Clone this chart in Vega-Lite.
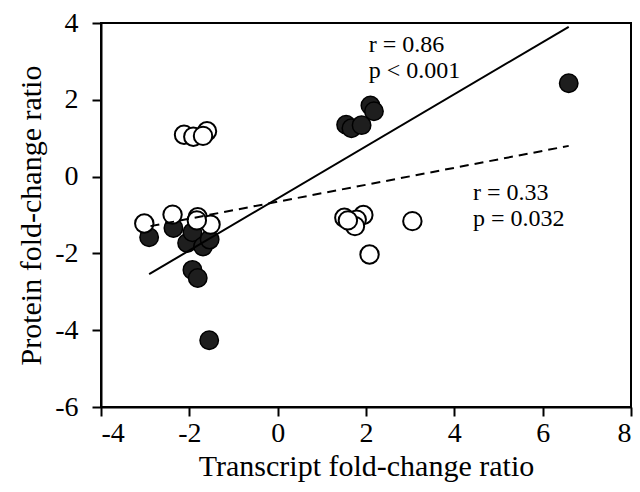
{
  "$schema": "https://vega.github.io/schema/vega-lite/v6.json",
  "width": 530,
  "height": 384,
  "autosize": {"type": "none"},
  "padding": {"left": 101, "top": 23, "right": 9, "bottom": 85},
  "background": "white",
  "config": {
    "view": {"stroke": "black", "strokeWidth": 2},
    "font": "Liberation Serif",
    "axis": {
      "grid": false,
      "domainColor": "black",
      "domainWidth": 2,
      "tickColor": "black",
      "tickWidth": 2,
      "tickSize": 9,
      "labelFont": "Liberation Serif",
      "labelFontSize": 28,
      "labelColor": "black",
      "titleFont": "Liberation Serif",
      "titleFontSize": 30,
      "titleFontWeight": "normal",
      "titleColor": "black",
      "labelExpr": "datum.value < 0 ? '-' + abs(datum.value) : '' + datum.value"
    }
  },
  "datasets": {
    "points": [
      {"transcript": 6.59, "protein": 2.43, "type": "filled"},
      {"transcript": 2.10, "protein": 1.85, "type": "filled"},
      {"transcript": 2.18, "protein": 1.70, "type": "filled"},
      {"transcript": 1.55, "protein": 1.35, "type": "filled"},
      {"transcript": 1.67, "protein": 1.26, "type": "filled"},
      {"transcript": 1.90, "protein": 1.34, "type": "filled"},
      {"transcript": -2.91, "protein": -1.58, "type": "filled"},
      {"transcript": -2.36, "protein": -1.34, "type": "filled"},
      {"transcript": -2.05, "protein": -1.73, "type": "filled"},
      {"transcript": -1.93, "protein": -1.45, "type": "filled"},
      {"transcript": -1.69, "protein": -1.82, "type": "filled"},
      {"transcript": -1.54, "protein": -1.64, "type": "filled"},
      {"transcript": -1.93, "protein": -2.43, "type": "filled"},
      {"transcript": -1.81, "protein": -2.64, "type": "filled"},
      {"transcript": -1.55, "protein": -4.26, "type": "filled"},
      {"transcript": -2.12, "protein": 1.09, "type": "open"},
      {"transcript": -1.91, "protein": 1.04, "type": "open"},
      {"transcript": -1.60, "protein": 1.18, "type": "open"},
      {"transcript": -1.69, "protein": 1.06, "type": "open"},
      {"transcript": -3.02, "protein": -1.22, "type": "open"},
      {"transcript": -2.38, "protein": -0.99, "type": "open"},
      {"transcript": -1.81, "protein": -1.06, "type": "open"},
      {"transcript": -1.52, "protein": -1.25, "type": "open"},
      {"transcript": -1.83, "protein": -1.14, "type": "open"},
      {"transcript": 1.51, "protein": -1.07, "type": "open"},
      {"transcript": 1.94, "protein": -1.00, "type": "open"},
      {"transcript": 1.79, "protein": -1.12, "type": "open"},
      {"transcript": 1.75, "protein": -1.29, "type": "open"},
      {"transcript": 1.59, "protein": -1.14, "type": "open"},
      {"transcript": 3.05, "protein": -1.16, "type": "open"},
      {"transcript": 2.08, "protein": -2.03, "type": "open"}
    ],
    "fits": [
      {"transcript": -2.91, "protein": -2.54, "fit": "filled"},
      {"transcript": 6.59, "protein": 3.90, "fit": "filled"},
      {"transcript": -2.88, "protein": -1.29, "fit": "open"},
      {"transcript": 6.59, "protein": 0.80, "fit": "open"}
    ],
    "labels": [
      {"transcript": 2.06, "protein": 3.42, "label": "r = 0.86"},
      {"transcript": 2.06, "protein": 2.74, "label": "p < 0.001"},
      {"transcript": 4.42, "protein": -0.42, "label": "r = 0.33"},
      {"transcript": 4.42, "protein": -1.10, "label": "p = 0.032"}
    ]
  },
  "layer": [
    {
      "data": {"name": "points"},
      "transform": [{"filter": "datum.type === 'filled'"}],
      "mark": {"type": "point", "shape": "circle", "filled": true, "fill": "#1e1e1e", "stroke": "black", "strokeWidth": 1.5, "opacity": 1, "size": 340},
      "encoding": {
        "x": {"field": "transcript", "type": "quantitative", "scale": {"domain": [-4, 8], "nice": false, "zero": false}, "axis": {"values": [-4, -2, 0, 2, 4, 6, 8], "title": "Transcript fold-change ratio", "labelPadding": 3, "titlePadding": 4}},
        "y": {"field": "protein", "type": "quantitative", "scale": {"domain": [-6, 4], "nice": false, "zero": false}, "axis": {"values": [-6, -4, -2, 0, 2, 4], "title": "Protein fold-change ratio", "labelPadding": 14, "titlePadding": 8}}
      }
    },
    {
      "data": {"name": "points"},
      "transform": [{"filter": "datum.type === 'open'"}],
      "mark": {"type": "point", "shape": "circle", "filled": true, "fill": "white", "stroke": "black", "strokeWidth": 2, "opacity": 1, "size": 340},
      "encoding": {
        "x": {"field": "transcript", "type": "quantitative"},
        "y": {"field": "protein", "type": "quantitative"}
      }
    },
    {
      "data": {"name": "fits"},
      "transform": [{"filter": "datum.fit === 'filled'"}],
      "mark": {"type": "line", "color": "black", "strokeWidth": 2},
      "encoding": {
        "x": {"field": "transcript", "type": "quantitative"},
        "y": {"field": "protein", "type": "quantitative"}
      }
    },
    {
      "data": {"name": "fits"},
      "transform": [{"filter": "datum.fit === 'open'"}],
      "mark": {"type": "line", "color": "black", "strokeWidth": 2, "strokeDash": [9, 6]},
      "encoding": {
        "x": {"field": "transcript", "type": "quantitative"},
        "y": {"field": "protein", "type": "quantitative"}
      }
    },
    {
      "data": {"name": "labels"},
      "mark": {"type": "text", "align": "left", "baseline": "middle", "font": "Liberation Serif", "fontSize": 24, "color": "black"},
      "encoding": {
        "x": {"field": "transcript", "type": "quantitative"},
        "y": {"field": "protein", "type": "quantitative"},
        "text": {"field": "label"}
      }
    }
  ]
}
